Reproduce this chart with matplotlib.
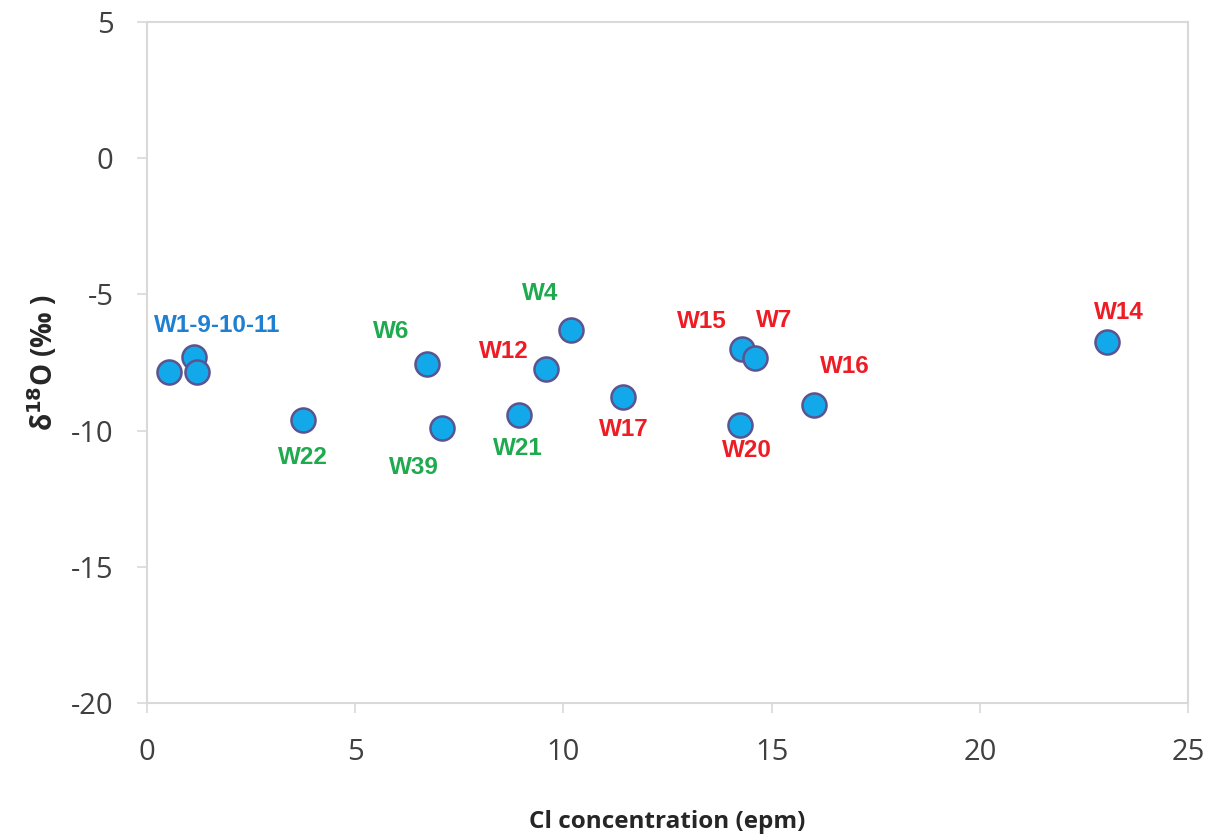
import numpy as np
import matplotlib.pyplot as plt

plt.rcParams['axes.unicode_minus'] = False

# Cl concentration (epm) and d18O (permil)
cl = [0.53, 1.13, 1.20, 3.75, 6.73, 7.09, 10.19, 9.59, 8.94, 11.44, 14.28, 14.59, 14.25, 16.01, 23.05]
d18o = [-7.83, -7.28, -7.83, -9.60, -7.57, -9.89, -6.32, -7.72, -9.41, -8.75, -6.99, -7.32, -9.78, -9.04, -6.73]
names = ['', 'W1-9-10-11', '', 'W22', 'W6', 'W39', 'W4', 'W12', 'W21', 'W17', 'W15', 'W7', 'W20', 'W16', 'W14']
group = ['b', 'b', 'b', 'g', 'g', 'g', 'g', 'r', 'g', 'r', 'r', 'r', 'r', 'r', 'r']

# label offsets in pixels (dx, dy up)
offs = [(0, 0), (23, 31), (0, 0), (0, -38), (-36, 33), (-28, -40), (-31, 37), (-43, 17),
        (-1, -34), (0, -33), (-40, 27), (20, 37), (7, -26), (31, 38), (12, 29)]
cols = {'b': '#1f7fd0', 'g': '#1faa4f', 'r': '#ee1c24'}

fig = plt.figure(figsize=(12.2, 8.38), dpi=100)
ax = fig.add_axes([0.1205, 0.161, 0.8533, 0.8127])

ax.scatter(cl, d18o, s=300, c='#12a9ea', edgecolors='#5a5490', linewidths=1.8, zorder=3)
for x, y, n, g, o in zip(cl, d18o, names, group, offs):
    if n:
        ax.annotate(n, (x, y), xytext=o, textcoords='offset pixels', ha='center', va='center',
                    color=cols[g], fontsize=17.5, fontweight='bold', family='Liberation Sans')

ax.set_xlim(0, 25)
ax.set_ylim(-20, 5)
ax.set_xticks(np.arange(0, 26, 5))
ax.set_yticks(np.arange(-20, 6, 5))
for s in ax.spines.values():
    s.set_color('#d9d9d9')
    s.set_linewidth(1.5)
ax.tick_params(length=7, width=1.2, color='#d9d9d9', labelsize=21, labelcolor='#404040')
ax.tick_params(axis='x', pad=18)
ax.tick_params(axis='y', pad=17)
for t in ax.get_xticklabels() + ax.get_yticklabels():
    t.set_family('Open Sans')

ax.set_xlabel('Cl concentration (epm)', fontsize=17.5, fontweight='bold', family='Open Sans',
              color='#262626', labelpad=31)
ax.set_ylabel(r'δ$^{\mathbf{18}}$O (‰ )', fontsize=20, fontweight='bold', family=['Open Sans', 'DejaVu Sans'],
              color='#262626', labelpad=8)

plt.savefig("out.png", dpi=100)
